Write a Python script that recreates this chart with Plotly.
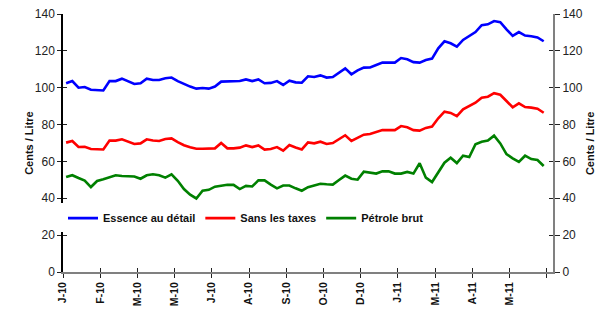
import plotly.graph_objects as go

# Weekly series (cents / litre)
essence = [102.4,103.6,100.0,100.4,98.9,98.9,98.5,103.6,103.6,104.9,
           103.4,102.0,102.4,104.9,104.2,104.2,105.1,105.5,103.6,101.9,
           100.6,99.5,99.8,99.5,100.6,103.3,103.3,103.3,103.6,104.5,
           103.6,104.5,102.4,102.6,103.6,101.5,103.8,102.9,102.7,106.2,
           105.8,106.7,105.5,105.8,108.3,110.5,107.3,109.4,110.9,111.0,
           112.3,113.6,113.6,113.6,116.1,115.4,113.9,113.6,115.0,115.8,
           121.4,125.2,124.1,122.3,125.9,128.1,130.2,133.9,134.4,136.2,
           135.6,131.7,128.1,130.2,128.3,127.9,127.3,125.2]
sans_taxes = [70.2,71.1,67.8,67.9,66.7,66.7,66.5,71.3,71.3,72.0,
              70.9,69.5,69.8,72.0,71.4,71.1,72.2,72.5,70.5,68.8,
              67.7,66.9,66.9,67.1,67.1,70.0,67.1,67.1,67.5,68.7,
              67.8,68.7,66.4,66.7,67.8,65.8,68.9,67.6,66.5,70.3,
              69.8,70.7,69.5,70.0,72.0,74.2,71.1,72.9,74.5,74.9,
              76.0,77.0,77.0,77.0,79.2,78.5,77.0,76.7,78.2,78.9,
              83.4,87.0,86.3,84.6,88.3,89.9,91.9,94.6,95.1,97.0,
              96.2,92.8,89.4,91.5,89.5,89.2,88.6,86.4]
petrole = [51.5,52.5,51.0,49.6,46.1,49.4,50.3,51.5,52.5,52.1,
           52.1,51.8,50.6,52.5,53.0,52.5,51.2,53.0,49.5,45.0,
           42.0,39.9,44.1,44.6,46.3,46.9,47.3,47.3,45.0,46.7,
           46.4,49.7,49.7,47.4,45.4,46.9,46.9,45.4,44.1,46.0,
           47.0,47.9,47.6,47.4,49.9,52.3,50.6,50.1,54.4,53.7,
           53.4,54.6,54.6,53.4,53.4,54.3,53.4,59.0,51.2,48.8,
           54.1,59.3,62.0,59.1,63.1,62.4,69.3,70.7,71.3,74.0,
           69.8,64.0,61.7,59.7,63.1,61.3,60.8,57.5]
tick_labels = ["J-10","F-10","M-10","M-10","J-10","A-10","S-10","O-10",
               "D-10","J-11","M-11","A-11","M-11",""]
series_names = ["Essence au détail", "Sans les taxes", "Pétrole brut"]
colors = ["#0000FF", "#FF0000", "#008000"]

n = len(essence)
x = list(range(n))
tickvals = [-0.5 + 6 * k for k in range(len(tick_labels))]
yticks = [0, 20, 40, 60, 80, 100, 120, 140]
xr = [-0.5, n + 0.5]
yr = [0, 140]
font = "Liberation Sans, Arial, sans-serif"

fig = go.Figure()
for name, vals, c in zip(series_names, [essence, sans_taxes, petrole], colors):
    fig.add_trace(go.Scatter(x=x, y=vals, mode="lines", name=name,
                             line=dict(color=c, width=2.6)))
# empty traces anchoring the overlay axes (inside half of the crossing ticks)
fig.add_trace(go.Scatter(x=[], y=[], xaxis="x2", yaxis="y3", showlegend=False))
fig.add_trace(go.Scatter(x=[], y=[], xaxis="x2", yaxis="y4", showlegend=False))
fig.add_trace(go.Scatter(x=[], y=[], xaxis="x", yaxis="y2", showlegend=False))

fig.update_layout(
    width=612, height=309,
    margin=dict(l=63, r=59, t=14, b=37),
    paper_bgcolor="white", plot_bgcolor="white",
    font=dict(family=font, color="#222222"),
    xaxis=dict(range=xr, tickmode="array", tickvals=tickvals, ticktext=tick_labels,
               tickangle=-90, ticks="outside", ticklen=4, tickcolor="#222222",
               tickfont=dict(size=10.5, weight="bold", color="#111111"),
               showgrid=False, zeroline=False, showline=True, linecolor="#808080",
               linewidth=2, automargin=False),
    xaxis2=dict(range=xr, overlaying="x", tickmode="array", tickvals=tickvals,
                showticklabels=False, ticks="inside", ticklen=4, tickcolor="#222222",
                showgrid=False, zeroline=False, showline=False, automargin=False),
    yaxis=dict(range=yr, tickvals=yticks, ticks="outside",
               ticklen=4, tickcolor="#222222", tickfont=dict(size=12),
               showgrid=False, zeroline=False, showline=True, linecolor="#000000",
               linewidth=1.5, automargin=False),
    yaxis2=dict(range=yr, overlaying="y", side="right", tickvals=yticks,
                ticks="outside", ticklen=5, tickcolor="#222222", tickfont=dict(size=12),
                showgrid=False, zeroline=False, showline=True, linecolor="#808080",
                linewidth=2, automargin=False),
    yaxis3=dict(range=yr, overlaying="y", side="left", tickvals=yticks,
                showticklabels=False, ticks="inside", ticklen=4, tickcolor="#222222",
                showgrid=False, zeroline=False, showline=False, automargin=False),
    yaxis4=dict(range=yr, overlaying="y", side="right", tickvals=yticks,
                showticklabels=False, ticks="inside", ticklen=4, tickcolor="#222222",
                showgrid=False, zeroline=False, showline=False, automargin=False),
    legend=dict(orientation="h", x=0, xanchor="left",
                y=0.209, yanchor="middle",
                bgcolor="white", font=dict(size=11, weight="bold", color="#111111"),
                itemwidth=30, tracegroupgap=0),
    showlegend=True,
    shapes=[
        # white gap in the left axis line behind the legend
        dict(type="rect", xref="paper", yref="paper", x0=-0.012, x1=0.012,
             y0=(272 - 232) / 258, y1=(272 - 203) / 258,
             fillcolor="white", line=dict(width=0), layer="above"),
    ],
    annotations=[
        dict(text="<b>Cents / Litre</b>", xref="paper", yref="paper", x=-0.086, y=0.5,
             textangle=-90, showarrow=False, font=dict(size=11, color="#111111")),
        dict(text="<b>Cents / Litre</b>", xref="paper", yref="paper", x=1.092, y=0.5,
             textangle=-90, showarrow=False, font=dict(size=11, color="#111111")),
    ],
)

fig.write_html("out.html", config={"displayModeBar": False},
               post_script="document.body.style.margin='0';")
